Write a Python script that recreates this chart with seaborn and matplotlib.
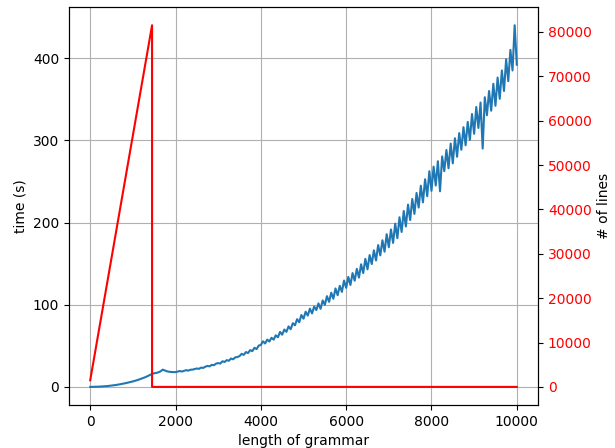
import matplotlib
matplotlib.use("Agg")
import matplotlib.pyplot as plt
import seaborn as sns

# grammar lengths sampled every 50
lengths = list(range(0, 10001, 50))
times = [
    # 0 - 1950
    0.0, 0.05, 0.1, 0.2, 0.3, 0.45, 0.6, 0.8, 1.0, 1.3,
    1.6, 1.9, 2.3, 2.7, 3.2, 3.7, 4.2, 4.8, 5.4, 6.0,
    6.7, 7.4, 8.2, 9.1, 10.0, 11.0, 12.0, 13.2, 14.5, 15.8,
    16.6, 17.0, 17.8, 19.0, 21.0, 20.0, 19.0, 18.4, 18.2, 18.0,
    # 2000 - 2950
    18.0, 18.6, 19.3, 18.7, 19.6, 20.4, 19.8, 20.9, 21.0, 21.8,
    22.4, 22.0, 23.5, 23.1, 24.6, 25.5, 25.0, 26.8, 26.4, 28.3,
    # 3000 - 3950
    29.0, 28.4, 31.2, 30.3, 32.6, 31.8, 34.5, 33.6, 35.9, 36.3,
    37.5, 40.2, 39.0, 42.4, 41.2, 44.8, 43.5, 47.6, 46.0, 50.3,
    # 4000 - 4950
    51.0, 55.5, 52.8, 57.6, 55.2, 59.8, 57.5, 62.8, 60.4, 66.9,
    63.5, 69.8, 67.0, 73.6, 70.2, 77.5, 75.0, 82.4, 78.6, 87.5,
    # 5000 - 5950
    83.0, 91.5, 86.8, 95.2, 89.4, 97.8, 93.5, 101.6, 95.0, 105.2,
    99.8, 110.4, 103.5, 114.6, 107.2, 119.8, 111.5, 123.0, 115.6, 129.4,
    # 6000 - 6950
    120.5, 133.8, 124.0, 138.5, 129.2, 143.6, 133.0, 149.2, 138.5, 155.8,
    143.0, 160.4, 149.5, 166.2, 153.8, 172.6, 160.0, 178.4, 164.5, 185.8,
    # 7000 - 7950
    170.0, 191.5, 175.2, 198.6, 181.0, 206.4, 188.5, 214.0, 195.2, 221.8,
    203.0, 228.6, 210.5, 236.0, 218.2, 244.8, 224.5, 252.6, 232.0, 262.4,
    # 8000 - 8950
    238.5, 268.0, 245.0, 274.6, 238.0, 280.4, 262.5, 288.2, 266.0, 296.0,
    272.0, 302.5, 280.0, 308.8, 288.5, 316.0, 294.0, 322.4, 300.5, 332.0,
    # 9000 - 10000
    308.0, 340.6, 315.0, 346.0, 290.0, 352.4, 330.5, 360.0, 336.0, 368.8,
    342.0, 376.4, 350.5, 385.0, 360.0, 398.6, 372.0, 410.0, 385.0, 440.0,
    392.0,
]

# number of lines
line_lengths = [0, 1450, 1450, 10000]
line_counts = [1500, 81500, 0, 0]

fig, ax = plt.subplots(figsize=(6.15, 4.48), dpi=100)
sns.lineplot(x=lengths, y=times, ax=ax, color="#1f77b4", estimator=None, sort=False)
ax.set_xlabel("length of grammar")
ax.set_ylabel("time (s)")
ax.grid(True)

ax2 = ax.twinx()
sns.lineplot(x=line_lengths, y=line_counts, ax=ax2, color="red", estimator=None, sort=False)
ax2.set_ylabel("# of lines")
ax2.tick_params(axis="y", labelcolor="red")

fig.subplots_adjust(left=0.112, right=0.875, top=0.984, bottom=0.096)
plt.savefig("out.png")
